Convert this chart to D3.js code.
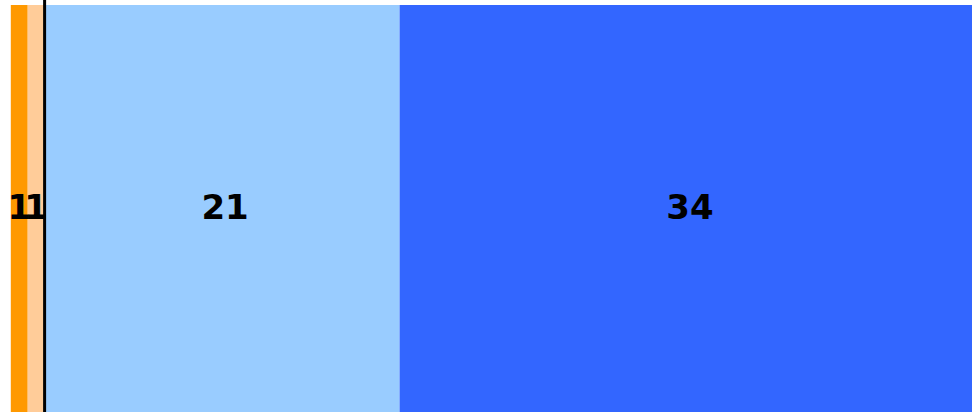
<!DOCTYPE html>
<html><head><meta charset="utf-8">
<script src="https://cdn.jsdelivr.net/npm/d3@7"></script>
<style>html,body{margin:0;padding:0;overflow:hidden;background:#fff}</style>
</head><body>
<script>
const categories = ["Strongly disagree", "Disagree", "Agree", "Strongly agree"];
const values = [1, 1, 21, 34];
const signs = [-1, -1, 1, 1];
const colors = ["#ff9900", "#ffcc99", "#99ccff", "#3366ff"];
const labels = ["1", "1", "21", "34"];

const W = 972, H = 412;
const svg = d3.select("body").append("svg").attr("width", W).attr("height", H);
const x = d3.scaleLinear().domain([-2, 55]).range([10.8, 974.3]);
const y = d3.scaleBand().domain(["row"]).range([5, 412]);

let pos = 0;
const segs = values.map((v, i) => ({v, s: signs[i], c: colors[i], l: labels[i], name: categories[i]}));
// negatives: first category outermost
let acc = 0;
for (let i = segs.length - 1; i >= 0; i--) {
  if (segs[i].s < 0) { segs[i].x1 = acc; segs[i].x0 = acc - segs[i].v; acc -= segs[i].v; }
}
segs.forEach(d => { if (d.s > 0) { d.x0 = pos; d.x1 = pos + d.v; pos += d.v; } });

svg.selectAll("rect.seg").data(segs).join("rect").attr("class", "seg")
  .attr("x", d => x(d.x0)).attr("width", d => x(d.x1) - x(d.x0))
  .attr("y", y("row")).attr("height", y.bandwidth() + 5)
  .attr("fill", d => d.c);

svg.append("line").attr("x1", x(0)).attr("x2", x(0)).attr("y1", 0).attr("y2", H)
  .attr("stroke", "#000").attr("stroke-width", 3);

svg.selectAll("text.lab").data(segs).join("text").attr("class", "lab")
  .attr("x", d => (x(d.x0) + x(d.x1)) / 2 + (d.v > 20 ? 3 : 0)).attr("y", 207)
  .attr("text-anchor", "middle").attr("dominant-baseline", "central")
  .attr("font-family", "DejaVu Sans").attr("font-weight", "bold").attr("font-size", 34)
  .attr("fill", "#000").text(d => d.l);
</script>
</body></html>
